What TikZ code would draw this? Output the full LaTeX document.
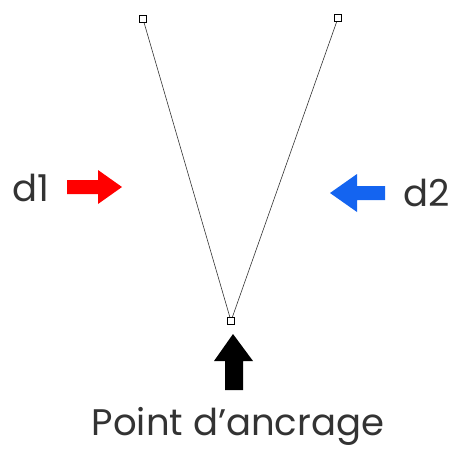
\documentclass[tikz,border=0pt]{standalone}
\usepackage{fontspec}
\setmainfont{Poppins}
\usetikzlibrary{calc}
\definecolor{bleud}{RGB}{20,100,240}

\begin{document}
\begin{tikzpicture}[x=1pt,y=-1pt,
    sommet/.style={draw, fill=white, line width=1.1pt, minimum size=7pt, inner sep=0pt},
    etiquette/.style={font=\fontsize{37}{40}\selectfont, text=black!80, inner sep=0pt}]
  \useasboundingbox (0,0) rectangle (454,450);
  % Sommets
  \node[sommet] (A) at (143,19) {};
  \node[sommet] (B) at (338,18) {};
  \node[sommet] (O) at (231,321) {};

  \draw[line width=0.6pt, black!80] (A) -- (O) -- (B);

  % Fleches
  \fill[red] (67,180) -- (98,180) -- (98,170) -- (122,187) -- (98,204) -- (98,194) -- (67,194) -- cycle;
  \fill[bleud] (385,186) -- (357,186) -- (357,174) -- (330,193) -- (357,212) -- (357,200) -- (385,200) -- cycle;
  \fill[black] (225,390) -- (225,361) -- (214,361) -- (233,334) -- (253,361) -- (243,361) -- (243,390) -- cycle;

  % Textes
  \node[etiquette] (d1) at (31,188) {d1};
  \node[etiquette] (d2) at (427,193) {d2};
  \node[etiquette] (P) at (238,426) {Point d'ancrage};
\end{tikzpicture}
\end{document}
